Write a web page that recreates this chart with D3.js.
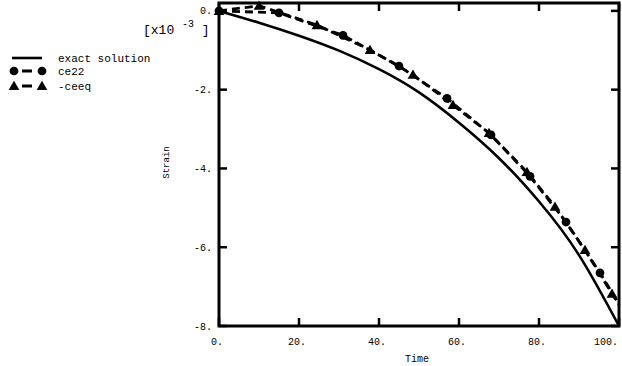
<!DOCTYPE html>
<html><head><meta charset="utf-8">
<script src="https://cdn.jsdelivr.net/npm/d3@7"></script>
<style>html,body{margin:0;padding:0;background:#fff;}svg{display:block;}</style>
</head><body>
<script>
// ---- data ----
const exactTime   = [0, 10, 20, 30, 40, 50, 60, 70, 80, 90, 100];
const exactStrain = [0, -0.30, -0.63, -1.01, -1.48, -2.07, -2.84, -3.74, -4.84, -6.20, -8.0];
const ce22Time    = [0, 15, 31, 45, 57, 68, 77.75, 86.75, 95.25, 100];
const ce22Strain  = [0, -0.05, -0.62, -1.40, -2.22, -3.15, -4.20, -5.36, -6.65, -7.45];
const ceeqTime    = [0, 10, 24.5, 37.75, 48.5, 58.5, 67.5, 77, 84, 91.5, 98.25, 100];
const ceeqStrain  = [0, 0.13, -0.36, -0.99, -1.62, -2.39, -3.10, -4.09, -4.97, -6.07, -7.18, -7.45];
const xTicks = [0, 20, 40, 60, 80, 100];
const yTicks = [0, -2, -4, -6, -8];
const legendLabels = ["exact solution", "ce22", "-ceeq"];

const W = 622, H = 366;
const L = 219, R = 619, T = 3, B = 326;
const svg = d3.select("body").append("svg").attr("width", W).attr("height", H);
svg.append("rect").attr("width", W).attr("height", H).attr("fill", "#fff");

const x = d3.scaleLinear().domain([0, 100]).range([L, R]);
const y = d3.scaleLinear().domain([-8, 0.2]).range([B, T]);
const mono = "'Liberation Mono', 'DejaVu Sans Mono', monospace";

// series
const exact = exactTime.map((t, i) => [t, exactStrain[i]]);
const ce22 = ce22Time.map((t, i) => [t, ce22Strain[i]]);
const ceeq = ceeqTime.map((t, i) => [t, ceeqStrain[i]]);
const straight = d3.line().x(d => x(d[0])).y(d => y(d[1]));
const smooth = d3.line().x(d => x(d[0])).y(d => y(d[1])).curve(d3.curveNatural);

const g = svg.append("g");
g.append("path").attr("d", smooth(exact))
  .attr("fill", "none").attr("stroke", "#000").attr("stroke-width", 2.6);
g.append("path").attr("d", straight(ce22))
  .attr("fill", "none").attr("stroke", "#000").attr("stroke-width", 2.8).attr("stroke-dasharray", "8,5");
g.append("path").attr("d", straight(ceeq))
  .attr("fill", "none").attr("stroke", "#000").attr("stroke-width", 2.8).attr("stroke-dasharray", "8,5");

const tri = d3.symbol().type(d3.symbolTriangle).size(50);
const circ = d3.symbol().type(d3.symbolCircle).size(60);
g.selectAll(".c").data(ce22.slice(0, -1)).enter().append("path")
  .attr("transform", d => `translate(${x(d[0])},${y(d[1])})`).attr("d", circ).attr("fill", "#000");
g.selectAll(".t").data(ceeq.slice(0, -1)).enter().append("path")
  .attr("transform", d => `translate(${x(d[0])},${y(d[1]) + 1})`).attr("d", tri).attr("fill", "#000");

// frame and ticks
const ax = svg.append("g").attr("stroke", "#000");
ax.append("rect").attr("x", L).attr("y", T).attr("width", R - L).attr("height", B - T)
  .attr("fill", "none").attr("stroke-width", 3);
xTicks.forEach(v => {
  ax.append("line").attr("x1", x(v)).attr("x2", x(v)).attr("y1", B).attr("y2", B - 8).attr("stroke-width", 2.5);
  ax.append("line").attr("x1", x(v)).attr("x2", x(v)).attr("y1", T).attr("y2", T + 8).attr("stroke-width", 2.5);
});
yTicks.forEach(v => {
  ax.append("line").attr("x1", L).attr("x2", L + 8).attr("y1", y(v)).attr("y2", y(v)).attr("stroke-width", 2.5);
  ax.append("line").attr("x1", R).attr("x2", R - 8).attr("y1", y(v)).attr("y2", y(v)).attr("stroke-width", 2.5);
});

// tick labels
const txt = svg.append("g").attr("font-family", mono).attr("fill", "#000");
xTicks.forEach((v, i) => {
  const last = i === xTicks.length - 1;
  txt.append("text").attr("x", last ? R - 1 : x(v) - 2).attr("y", 345)
    .attr("text-anchor", last ? "end" : "middle").attr("font-size", 10).text(v + ".");
});
yTicks.forEach(v => {
  txt.append("text").attr("x", 212).attr("y", y(v) + 3.5)
    .attr("text-anchor", "end").attr("font-size", 10).text(v + ".");
});
txt.append("text").attr("x", (L + R) / 2 - 2).attr("y", 362).attr("text-anchor", "middle")
  .attr("font-size", 10).text("Time");
txt.append("text").attr("transform", `translate(169,${(T + B) / 2 - 2}) rotate(-90)`)
  .attr("text-anchor", "middle").attr("font-size", 9).text("Strain");
const mult = txt.append("text").attr("x", 143).attr("y", 34).attr("font-size", 13);
mult.append("tspan").text("[x10 ");
mult.append("tspan").attr("dy", -7).attr("font-size", 10).text("-3");
mult.append("tspan").attr("dy", 7).text(" ]");

// legend
const lg = svg.append("g");
const rows = [58, 71, 86];
lg.append("line").attr("x1", 12).attr("x2", 42).attr("y1", rows[0]).attr("y2", rows[0])
  .attr("stroke", "#000").attr("stroke-width", 2.6);
[1, 2].forEach(k => {
  lg.append("line").attr("x1", 14).attr("x2", 42).attr("y1", rows[k]).attr("y2", rows[k])
    .attr("stroke", "#000").attr("stroke-width", 2.8).attr("stroke-dasharray", "0,8,10,20");
  [14, 42].forEach(px => lg.append("path").attr("transform", `translate(${px},${rows[k] + (k === 2 ? 1 : 0)})`)
    .attr("d", k === 1 ? circ : tri).attr("fill", "#000"));
});
legendLabels.forEach((s, k) => {
  lg.append("text").attr("x", 58).attr("y", rows[k] + 4).attr("font-family", mono)
    .attr("font-size", 11).text(s);
});
</script>
</body></html>
